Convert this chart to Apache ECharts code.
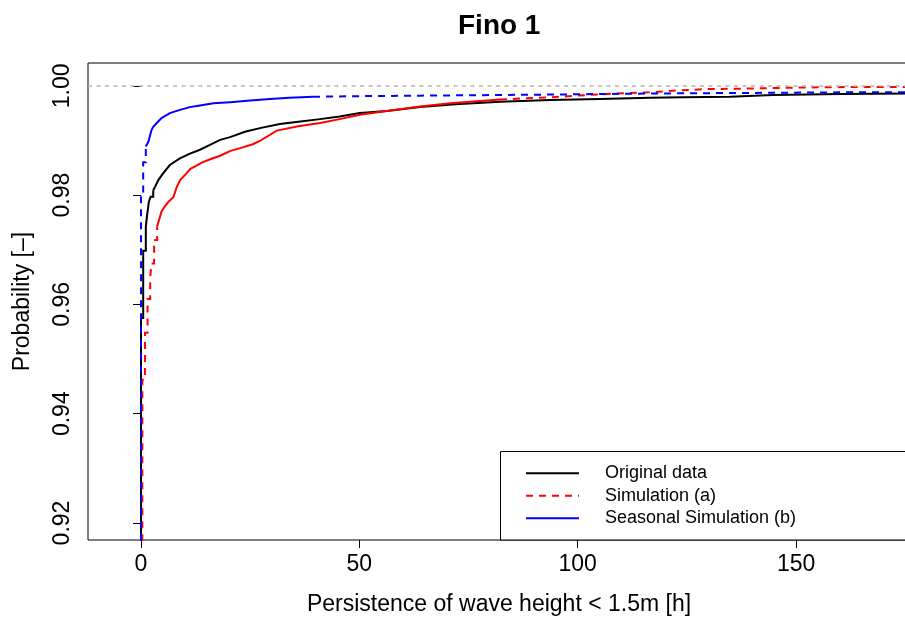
<!DOCTYPE html>
<html><head><meta charset="utf-8">
<script src="https://cdn.jsdelivr.net/npm/echarts@6/dist/echarts.min.js"></script>
<style>html,body{margin:0;padding:0;overflow:hidden;background:#fff}#main{width:920px;height:621px}</style>
</head><body><div id="main"></div>
<script>
const titleText = 'Fino 1';
const xAxisTitle = 'Persistence of wave height < 1.5m [h]';
const yAxisTitle = 'Probability [–]';
const xTicks = [0, 50, 100, 150];
const yTicks = [0.92, 0.94, 0.96, 0.98, 1.00];
const refLevels = [1.0];
const seriesNames = ['Original data', 'Simulation (a)', 'Seasonal Simulation (b)'];

// Original data (empirical CDF)
const originalX = [0, 0, 0.5, 1.1, 1.4, 1.8, 2.2, 2.8, 3.2, 4.0, 5.1, 6.6, 8.9, 11.2, 13.5, 15.8, 18.1, 20.4, 23.8, 27.5, 31.8, 36.0, 41.0, 45.5, 50.1, 56.3, 63.9, 72.0, 82.2, 93.7, 105.1, 116.6, 124.1, 134.9, 144.7, 160.1, 176];
const originalP = [0.90, 0.9575, 0.9698, 0.9742, 0.9764, 0.9788, 0.9797, 0.9809, 0.9815, 0.9828, 0.9840, 0.9855, 0.9867, 0.9876, 0.9883, 0.9892, 0.9901, 0.9906, 0.9916, 0.9923, 0.9930, 0.9934, 0.9939, 0.9944, 0.9950, 0.9954, 0.9961, 0.9966, 0.9971, 0.9974, 0.9976, 0.9978, 0.9979, 0.9980, 0.9983, 0.9985, 0.9986];

// Simulation (a)
const simAX = [0.3, 0.3, 0.9, 1.5, 2.1, 2.4, 3.0, 3.7, 4.7, 5.5, 6.3, 7.4, 8.2, 9.0, 10.2, 11.3, 12.5, 14.0, 16.0, 18.1, 20.5, 22.7, 25.6, 27.2, 31.1, 36.0, 41.0, 45.5, 50.1, 56.3, 63.9, 70.8, 82.2, 93.7, 102.0, 108.9, 116.5, 121.8, 129.6, 139.5, 152.5, 167.6, 176];
const simAP = [0.90, 0.9462, 0.9548, 0.9610, 0.9649, 0.9675, 0.9718, 0.9743, 0.9770, 0.9780, 0.9788, 0.9796, 0.9815, 0.9828, 0.9838, 0.9848, 0.9853, 0.9860, 0.9866, 0.9872, 0.9881, 0.9886, 0.9893, 0.9899, 0.9918, 0.9926, 0.9932, 0.9939, 0.9947, 0.9954, 0.9962, 0.9968, 0.9975, 0.9979, 0.9983, 0.9986, 0.9988, 0.9991, 0.9994, 0.9995, 0.9997, 0.9998, 0.9998];

// Seasonal Simulation (b)
const seasonalX = [0, 0, 0.5, 1.1, 1.3, 1.7, 2.1, 2.4, 2.8, 3.6, 4.7, 6.6, 8.9, 11.2, 13.5, 16.6, 20.4, 25.0, 29.5, 34.0, 39.4, 50.0, 64.0, 80.0, 95.0, 105.0, 120.0, 140.0, 160.0, 176];
const seasonalP = [0.90, 0.9800, 0.9860, 0.9889, 0.9890, 0.9898, 0.9910, 0.9919, 0.9925, 0.9932, 0.9941, 0.9950, 0.9956, 0.9961, 0.9964, 0.9968, 0.9970, 0.9973, 0.9976, 0.9978, 0.9980, 0.9981, 0.9982, 0.9983, 0.9984, 0.9985, 0.9986, 0.9987, 0.9988, 0.9988];

const FONT = 'Liberation Sans, Arial, Helvetica, sans-serif';

function pick(xs, ys, lo, hi) {
  const out = [];
  for (let i = 0; i < xs.length; i++) if (xs[i] >= lo && xs[i] <= hi) out.push([xs[i], ys[i]]);
  return out;
}
function seg(name, xs, ys, lo, hi, color, dashed, step, z) {
  return {
    type: 'line', name: name, data: pick(xs, ys, lo, hi),
    step: step ? 'end' : false, symbol: 'none', showSymbol: false, smooth: false,
    clip: true, z: z, silent: true,
    lineStyle: { color: color, width: 2, type: dashed ? [7, 6] : 'solid', cap: 'butt', join: 'miter' },
    itemStyle: { color: color }, emphasis: { disabled: true }
  };
}

const series = [];
const blackA = seg(seriesNames[0], originalX, originalP, -Infinity, 2.8, '#000000', false, true, 3);
blackA.markLine = {
  silent: true, symbol: ['none', 'none'], label: { show: false },
  lineStyle: { color: '#b4b4b4', type: [4, 4.5], width: 1.5 },
  data: refLevels.map(v => ({ yAxis: v })), animation: false
};
series.push(blackA);
series.push(seg(seriesNames[0], originalX, originalP, 2.8, Infinity, '#000000', false, false, 3));
series.push(seg(seriesNames[1], simAX, simAP, -Infinity, 3.7, '#ff0000', true, true, 4));
series.push(seg(seriesNames[1], simAX, simAP, 3.7, 82.2, '#ff0000', false, false, 4));
series.push(seg(seriesNames[1], simAX, simAP, 82.2, Infinity, '#ff0000', true, false, 4));
series.push(seg(seriesNames[2], seasonalX, seasonalP, 1.1, 39.4, '#0000ff', false, false, 5));
series.push(seg(seriesNames[2], seasonalX, seasonalP, -Infinity, 1.1, '#0000ff', true, true, 5));
series.push(seg(seriesNames[2], seasonalX, seasonalP, 39.4, Infinity, '#0000ff', true, false, 5));

const chart = echarts.init(document.getElementById('main'), null, { renderer: 'canvas' });
chart.setOption({
  animation: false,
  backgroundColor: '#ffffff',
  textStyle: { fontFamily: FONT },
  title: {
    text: titleText, left: 458, top: 12, padding: 0,
    textStyle: { fontFamily: FONT, fontSize: 28, fontWeight: 'bold', color: '#000' }
  },
  grid: { left: 88, right: 10, top: 63, bottom: 81, show: true, borderColor: '#000', borderWidth: 1, backgroundColor: 'transparent', containLabel: false },
  xAxis: {
    type: 'value', min: -12.14, max: 176.09,
    name: xAxisTitle, nameLocation: 'middle', nameGap: 53,
    nameTextStyle: { fontFamily: FONT, fontSize: 23, color: '#000' },
    axisLine: { show: false },
    axisTick: { show: true, length: 8, inside: false, customValues: xTicks, lineStyle: { color: '#000', width: 1 } },
    axisLabel: { show: true, customValues: xTicks, margin: 13, fontFamily: FONT, fontSize: 23, color: '#000', formatter: v => String(v) },
    splitLine: { show: false }
  },
  yAxis: {
    type: 'value', min: 0.91689, max: 1.00417,
    name: yAxisTitle, nameLocation: 'middle', nameGap: 54, nameRotate: 90,
    nameTextStyle: { fontFamily: FONT, fontSize: 23, color: '#000' },
    axisLine: { show: false },
    axisTick: { show: true, length: 8, inside: false, customValues: yTicks, lineStyle: { color: '#000', width: 1 } },
    axisLabel: { show: true, customValues: yTicks, rotate: 90, margin: 14, fontFamily: FONT, fontSize: 23, color: '#000', formatter: v => v.toFixed(2) },
    splitLine: { show: false }
  },
  legend: {
    data: seriesNames, orient: 'vertical', left: 525, top: 462, padding: 0,
    itemWidth: 53, itemHeight: 14, itemGap: 0, z: 10, selectedMode: false,
    itemStyle: { color: 'rgba(0,0,0,0)', borderColor: 'rgba(0,0,0,0)', borderWidth: 0 },
    textStyle: { fontFamily: FONT, fontSize: 18, color: '#000', lineHeight: 22.5, padding: [0, 0, 0, 21] }
  },
  graphic: [{
    type: 'rect', z: 8, silent: true,
    shape: { x: 500.5, y: 451.5, width: 500, height: 88.5 },
    style: { fill: '#fff', stroke: '#000', lineWidth: 1 }
  }],
  series: series
});
</script></body></html>
